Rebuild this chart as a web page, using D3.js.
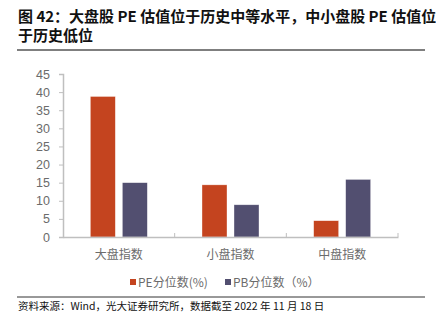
<!DOCTYPE html>
<html>
<head>
<meta charset="utf-8">
<script src="https://cdn.jsdelivr.net/npm/d3@7"></script>
<style>
  html, body { margin: 0; padding: 0; background: #fff; }
  svg { display: block; }
</style>
</head>
<body>
<svg id="chart" width="436" height="330"></svg>
<script>
// Valuation percentiles of the index groups
const categories = ["大盘指数", "小盘指数", "中盘指数"];
const peValues = [38.8, 14.4, 4.5];
const pbValues = [15.0, 8.9, 15.9];
const yTicks = [0, 5, 10, 15, 20, 25, 30, 35, 40, 45];
const seriesNames = ["PE分位数(%)", "PB分位数（%）"];
const seriesColors = ["#C4441F", "#524F70"];

(function () {
const svg = d3.select("#chart");
const font = "'Noto Sans CJK SC', 'Noto Sans', sans-serif";

// Title
const title = svg.append("g").attr("font-family", font).attr("font-weight", "bold")
  .attr("font-size", 15).attr("fill", "#111");
title.append("text").attr("x", 18).attr("y", 22).text("图 42：大盘股 PE 估值位于历史中等水平，中小盘股 PE 估值位");
title.append("text").attr("x", 18).attr("y", 41).text("于历史低位");
svg.append("line").attr("x1", 17).attr("x2", 425).attr("y1", 50).attr("y2", 50)
  .attr("stroke", "#555").attr("stroke-width", 1.3);

// Plot area
const plotL = 63, plotR = 398, plotT = 74, plotB = 237;
const x0 = d3.scaleBand().domain(categories).range([plotL, plotR]);
const y = d3.scaleLinear().domain([0, 45]).range([plotB, plotT]);

const rows = categories.map((c, i) => ({ cat: c, vals: [peValues[i], pbValues[i]] }));

// Bars
const barW = 25, gap = 7;
const g = svg.append("g");
rows.forEach(r => {
  const cx = x0(r.cat) + x0.bandwidth() / 2;
  r.vals.forEach((v, j) => {
    const bx = j === 0 ? cx - gap / 2 - barW : cx + gap / 2;
    g.append("rect")
      .attr("x", bx).attr("width", barW)
      .attr("y", y(v)).attr("height", y(0) - y(v))
      .attr("fill", seriesColors[j])
      .attr("stroke", "#fff").attr("stroke-opacity", 0.6).attr("stroke-width", 0.6);
  });
});

// Y axis
const yAxis = svg.append("g").attr("transform", `translate(${plotL},0)`)
  .call(d3.axisLeft(y).tickValues(yTicks).tickSize(4).tickPadding(9));
yAxis.select(".domain").attr("stroke", "#bfbfbf").attr("stroke-width", 1.5);
yAxis.selectAll(".tick line").attr("stroke", "#bfbfbf");
yAxis.selectAll(".tick text").attr("fill", "#6b6b6b").attr("font-size", 12.5)
  .attr("font-family", "'Liberation Sans', Arial, sans-serif");

// X axis
const xAxis = svg.append("g").attr("transform", `translate(0,${plotB})`)
  .call(d3.axisBottom(x0).tickSize(0).tickPadding(13));
xAxis.select(".domain").attr("stroke", "#bfbfbf").attr("stroke-width", 1.5);
xAxis.selectAll(".tick text").attr("fill", "#6b6b6b").attr("font-size", 12)
  .attr("font-family", font);
// Category boundary tick marks
const bounds = categories.slice(1).map(c => x0(c)).concat([plotR]);
svg.append("g").selectAll("line").data(bounds).join("line")
  .attr("x1", d => d).attr("x2", d => d)
  .attr("y1", plotB).attr("y2", plotB - 4)
  .attr("stroke", "#bfbfbf");

// Legend
const legend = svg.append("g").attr("font-family", font).attr("font-size", 12).attr("fill", "#6b6b6b");
const legendX = [130, 225];
seriesNames.forEach((name, j) => {
  legend.append("rect").attr("x", legendX[j]).attr("y", 279).attr("width", 6).attr("height", 6)
    .attr("fill", seriesColors[j]);
  legend.append("text").attr("x", legendX[j] + 8).attr("y", 287).text(name);
});

// Source note
svg.append("line").attr("x1", 17).attr("x2", 425).attr("y1", 297).attr("y2", 297)
  .attr("stroke", "#333").attr("stroke-width", 1);
svg.append("text").attr("x", 18).attr("y", 310).attr("font-family", font).attr("font-size", 10.5)
  .attr("fill", "#111").text("资料来源：Wind，光大证券研究所，数据截至 2022 年 11 月 18 日");
})();
</script>
</body>
</html>
